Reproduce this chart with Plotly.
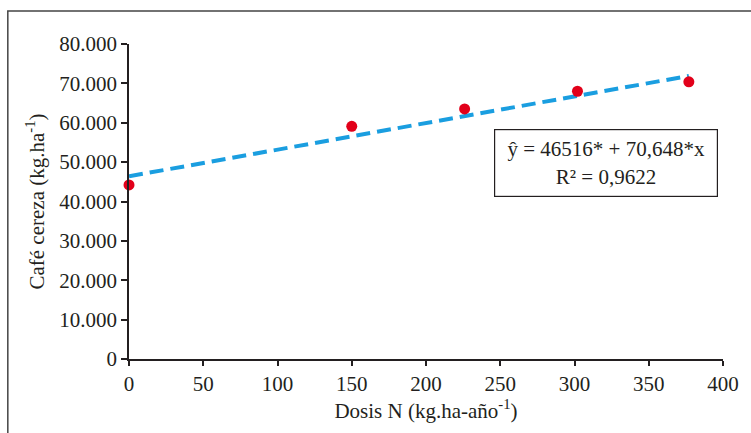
import plotly.graph_objects as go

dose = [0, 150, 226, 302, 377]
yield_obs = [44200, 59100, 63500, 68000, 70400]
trend_x = [0, 377]
trend_y = [46400, 71900]
x_ticks = [0, 50, 100, 150, 200, 250, 300, 350, 400]
y_ticks = [0, 10000, 20000, 30000, 40000, 50000, 60000, 70000, 80000]

FONT = "Liberation Serif, Times New Roman, serif"
FS = 21

fig = go.Figure()
fig.add_trace(go.Scatter(
    x=trend_x, y=trend_y, mode="lines",
    line=dict(color="#1a9ee0", width=4, dash="14px,7px"),
    hoverinfo="skip", showlegend=False, cliponaxis=False))
fig.add_trace(go.Scatter(
    x=dose, y=yield_obs, mode="markers",
    marker=dict(color="#e2001a", size=11),
    showlegend=False, cliponaxis=False))

fig.update_layout(
    width=751, height=433,
    margin=dict(l=129, r=24, t=44, b=74),
    paper_bgcolor="white", plot_bgcolor="white",
    separators=",.",
    font=dict(family=FONT, size=FS, color="#231f20"),
    xaxis=dict(range=[0, 400], tickvals=x_ticks, showgrid=False, zeroline=False,
               showline=True, linecolor="#231f20", linewidth=1.5,
               ticks="outside", ticklen=5, tickwidth=1.5, tickcolor="#231f20",
               tickfont=dict(size=FS),
               title=dict(text="Dosis N (kg.ha-año<sup>-1</sup>)", standoff=8,
                          font=dict(family=FONT, size=FS))),
    yaxis=dict(range=[0, 80000], tickvals=y_ticks, tickformat=",.0f",
               showgrid=False, zeroline=False,
               showline=True, linecolor="#231f20", linewidth=1.5,
               ticks="outside", ticklen=6, tickwidth=1.5, tickcolor="#231f20",
               tickfont=dict(size=FS),
               title=dict(text="Café cereza (kg.ha<sup>-1</sup>)", standoff=9,
                          font=dict(family=FONT, size=FS))),
    shapes=[
        dict(type="rect", xref="paper", yref="paper",
             x0=-122/598, x1=1.2, y0=-0.4, y1=(359-11)/315,
             line=dict(color="#444444", width=1.5), fillcolor="rgba(0,0,0,0)",
             layer="below"),
    ],
    annotations=[
        dict(xref="paper", yref="paper", x=(496-129)/598, y=(359-129)/315,
             xanchor="left", yanchor="top", showarrow=False,
             text="ŷ = 46516* + 70,648*x<br>R² = 0,9622", align="center",
             bordercolor="#231f20", borderwidth=1.2, borderpad=7,
             bgcolor="white", width=208,
             font=dict(family=FONT, size=FS, color="#231f20")),
    ],
)

fig.write_html("out.html")
